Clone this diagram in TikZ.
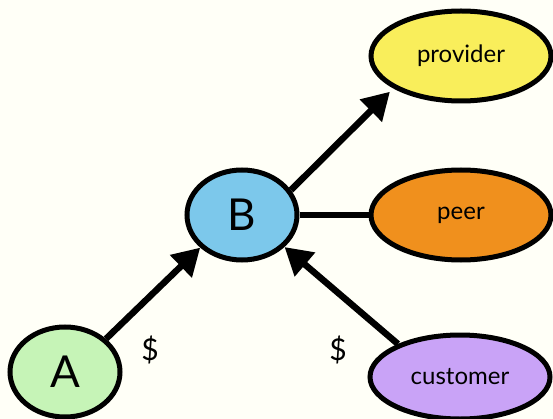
\documentclass[tikz,border=0pt]{standalone}
\usepackage{fontspec}
\setmainfont{Lato}
\usetikzlibrary{shapes.geometric,arrows.meta}
\definecolor{bgc}{HTML}{FFFFF7}
\definecolor{ca}{HTML}{C6F4B7}
\definecolor{cb}{HTML}{7CC8EB}
\definecolor{cprov}{HTML}{F9EE5B}
\definecolor{cpeer}{HTML}{F0901D}
\definecolor{ccust}{HTML}{C9A3F7}
\tikzset{
  ell/.style={ellipse, draw=black, line width=5pt, inner sep=0pt},
  small/.style={ell, minimum width=110pt, minimum height=90pt, font=\fontsize{44}{44}\selectfont},
  big/.style={ell, minimum width=180pt, minimum height=90pt, font=\fontsize{24}{24}\selectfont},
  conn/.style={line width=6.5pt},
  arr/.style={conn, -{Triangle[length=27pt,width=30pt]}},
  dollar/.style={font=\fontsize{30}{30}\selectfont}
}
\begin{document}
\begin{tikzpicture}[x=1pt,y=-1pt]
\fill[bgc] (0,0) rectangle (553,419);
\useasboundingbox (0,0) rectangle (553,419);
\node[small, fill=ca] (A) at (65,372) {A};
\node[small, fill=cb] (B) at (242,215) {B};
\node[big, fill=cprov] (prov) at (461,56) {provider};
\node[big, fill=cpeer] (peer) at (461,215) {peer};
\node[big, fill=ccust, minimum height=84pt] (cust) at (460,377) {customer};
\draw[arr] (A.39) -- (B.218);
\draw[arr] (B.27) -- ([shift={(-4pt,-3pt)}]prov.206);
\draw[conn] (B.east) -- (peer.west);
\draw[arr] (cust.152) -- (B.323);
\node[dollar] (d1) at (150,350) {\$};
\node[dollar] (d2) at (338,350) {\$};
\end{tikzpicture}
\end{document}
